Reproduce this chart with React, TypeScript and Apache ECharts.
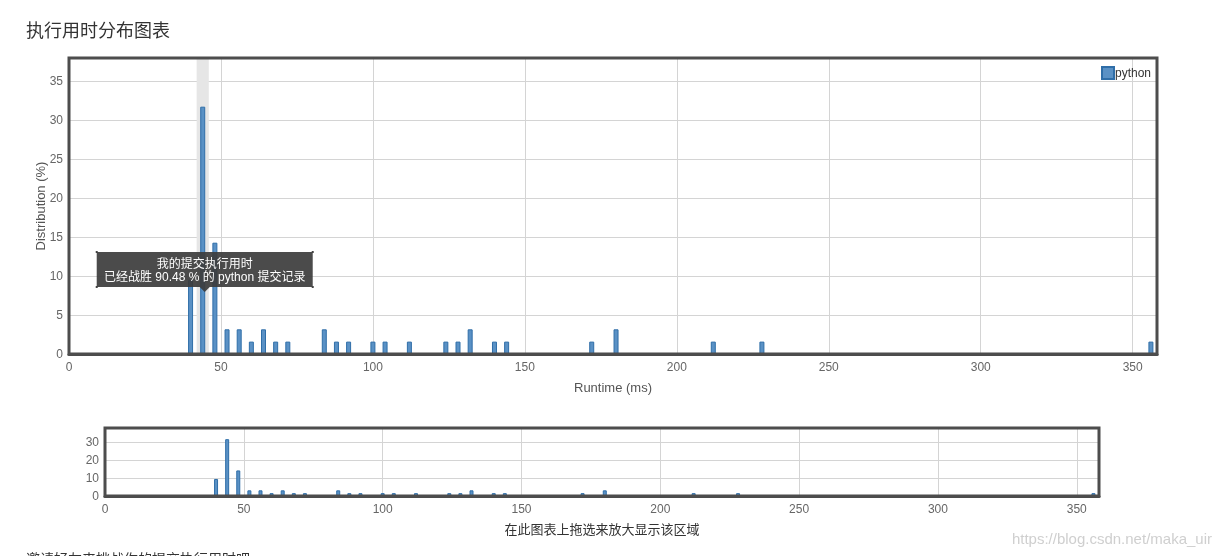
import React, { useEffect, useRef } from "react";
import * as echarts from "echarts";

const title = "执行用时分布图表";
const seriesName = "python";
const runtimes = [40, 44, 48, 52, 56, 60, 64, 68, 72, 84, 88, 92, 100, 104, 112, 124, 128, 132, 140, 144, 172, 180, 212, 228, 356];
const distribution = [9.52, 31.75, 14.29, 3.17, 3.17, 1.59, 3.17, 1.59, 1.59, 3.17, 1.59, 1.59, 1.59, 1.59, 1.59, 1.59, 1.59, 3.17, 1.59, 1.59, 1.59, 3.17, 1.59, 1.59, 1.59];
const myRuntime = 44;
const highlightRange = [42, 46];
const tooltipLines = ["我的提交执行用时", "已经战胜 90.48 % 的 python 提交记录"];
const xAxisName = "Runtime (ms)";
const yAxisName = "Distribution (%)";
const navigatorName = "在此图表上拖选来放大显示该区域";
const footerText = "邀请好友来挑战你的提交执行用时吧";
const watermark = "https://blog.csdn.net/maka_uir";

const FONT = '"Liberation Sans", Arial, "Noto Sans CJK SC", sans-serif';

export default function App() {
  const ref = useRef<HTMLDivElement>(null);
  useEffect(() => {
    if (!ref.current) return;
    const chart = echarts.init(ref.current, null, { renderer: "svg" });
    const data = runtimes.map((r, i) => [r, distribution[i]]);
    const barStyle = { color: "#5a91c5", borderColor: "#2f6ea8", borderWidth: 1 };
    const axisLabel = { color: "#666", fontSize: 12, fontFamily: FONT };
    const splitLine = { show: true, lineStyle: { color: "#d4d4d4", width: 1 } };
    chart.setOption({
      animation: false,
      textStyle: { fontFamily: FONT },
      title: {
        text: title,
        left: 26,
        top: 22,
        padding: 0,
        textStyle: { fontSize: 18, fontWeight: "normal", color: "#333", fontFamily: FONT },
      },
      legend: {
        data: [seriesName],
        left: 1096,
        top: 61,
        icon: "rect",
        itemWidth: 12,
        itemHeight: 12,
        textStyle: { fontSize: 12, color: "#333", fontFamily: FONT, padding: [0, 0, 0, -4] },
      },
      grid: [
        { left: 69, right: 66, top: 58, height: 296, show: true, borderColor: "#4d4d4d", borderWidth: 3, containLabel: false, z: 5 },
        { left: 105, right: 124, top: 428, height: 68, show: true, borderColor: "#4d4d4d", borderWidth: 3, containLabel: false, z: 5 },
      ],
      xAxis: [
        {
          type: "value", gridIndex: 0, min: 0, max: 358, interval: 50,
          axisLine: { show: true, lineStyle: { color: "#4d4d4d", width: 3 } },
          axisTick: { show: false },
          axisLabel: { ...axisLabel, margin: 7, showMaxLabel: false },
          splitLine,
          name: xAxisName, nameLocation: "middle", nameGap: 27, nameMoveOverlap: false,
          nameTextStyle: { fontSize: 13, color: "#555", fontFamily: FONT },
        },
        {
          type: "value", gridIndex: 1, min: 0, max: 358, interval: 50,
          axisLine: { show: true, lineStyle: { color: "#4d4d4d", width: 3 } },
          axisTick: { show: false },
          axisLabel: { ...axisLabel, margin: 7, showMaxLabel: false },
          splitLine,
          name: navigatorName, nameLocation: "middle", nameGap: 27, nameMoveOverlap: false,
          nameTextStyle: { fontSize: 13, color: "#333", fontFamily: FONT },
        },
      ],
      yAxis: [
        {
          type: "value", gridIndex: 0, min: 0, max: 38, interval: 5,
          axisLine: { show: false }, axisTick: { show: false },
          axisLabel: { ...axisLabel, margin: 6, showMaxLabel: false },
          splitLine,
          name: yAxisName, nameLocation: "middle", nameGap: 22, nameMoveOverlap: false,
          nameTextStyle: { fontSize: 13, color: "#555", fontFamily: FONT },
        },
        {
          type: "value", gridIndex: 1, min: 0, max: 38, interval: 10,
          axisLine: { show: false }, axisTick: { show: false },
          axisLabel: { ...axisLabel, margin: 6, showMaxLabel: false },
          splitLine,
        },
      ],
      series: [
        {
          type: "line", xAxisIndex: 0, yAxisIndex: 0, data: [], z: 0, silent: true,
          markArea: {
            silent: true,
            itemStyle: { color: "#e6e6e6" },
            data: [[{ xAxis: highlightRange[0] }, { xAxis: highlightRange[1] }]],
          },
        },
        {
          name: seriesName, type: "bar", xAxisIndex: 0, yAxisIndex: 0, data,
          barWidth: 5, itemStyle: barStyle, z: 3,
        },
        {
          name: "navigator", type: "bar", xAxisIndex: 1, yAxisIndex: 1, data,
          barWidth: 4, itemStyle: barStyle, z: 3,
        },
      ],
    });

    const [px] = chart.convertToPixel({ xAxisIndex: 0, yAxisIndex: 0 }, [myRuntime, 0]) as number[];
    const cx = px + 2;
    const boxW = 216, boxH = 35, boxTop = 252;
    const bx = cx - boxW / 2;
    const dot = (x: number, y: number) => ({ type: "rect", shape: { x: x - 1, y: y - 1, width: 2, height: 2 }, style: { fill: "#444" }, z: 21 });
    chart.setOption({
      graphic: [
        {
          type: "rect", z: 20,
          shape: { x: bx, y: boxTop, width: boxW, height: boxH },
          style: { fill: "rgba(60,60,60,0.92)" },
        },
        {
          type: "polygon", z: 20,
          shape: { points: [[cx - 5, boxTop + boxH], [cx + 5, boxTop + boxH], [cx, boxTop + boxH + 5]] },
          style: { fill: "rgba(60,60,60,0.92)" },
        },
        dot(bx, boxTop), dot(bx + boxW, boxTop), dot(bx, boxTop + boxH), dot(bx + boxW, boxTop + boxH),
        {
          type: "text", z: 22, x: cx, y: boxTop + 12,
          style: { text: tooltipLines[0], fill: "#fff", font: `12px ${FONT}`, align: "center", verticalAlign: "middle" },
        },
        {
          type: "text", z: 22, x: cx, y: boxTop + 25,
          style: { text: tooltipLines[1], fill: "#fff", font: `12px ${FONT}`, align: "center", verticalAlign: "middle" },
        },
        {
          type: "text", z: 22, x: 1212, y: 538,
          style: { text: watermark, fill: "#cfcfcf", font: `15px ${FONT}`, align: "right", verticalAlign: "middle" },
        },
        {
          type: "text", z: 22, x: 26, y: 552,
          style: { text: footerText, fill: "#333", font: `14px ${FONT}`, align: "left", verticalAlign: "top" },
        },
      ],
    });
    return () => chart.dispose();
  }, []);
  return <div ref={ref} style={{ position: "fixed", left: 0, top: 0, width: 1223, height: 556 }} />;
}
